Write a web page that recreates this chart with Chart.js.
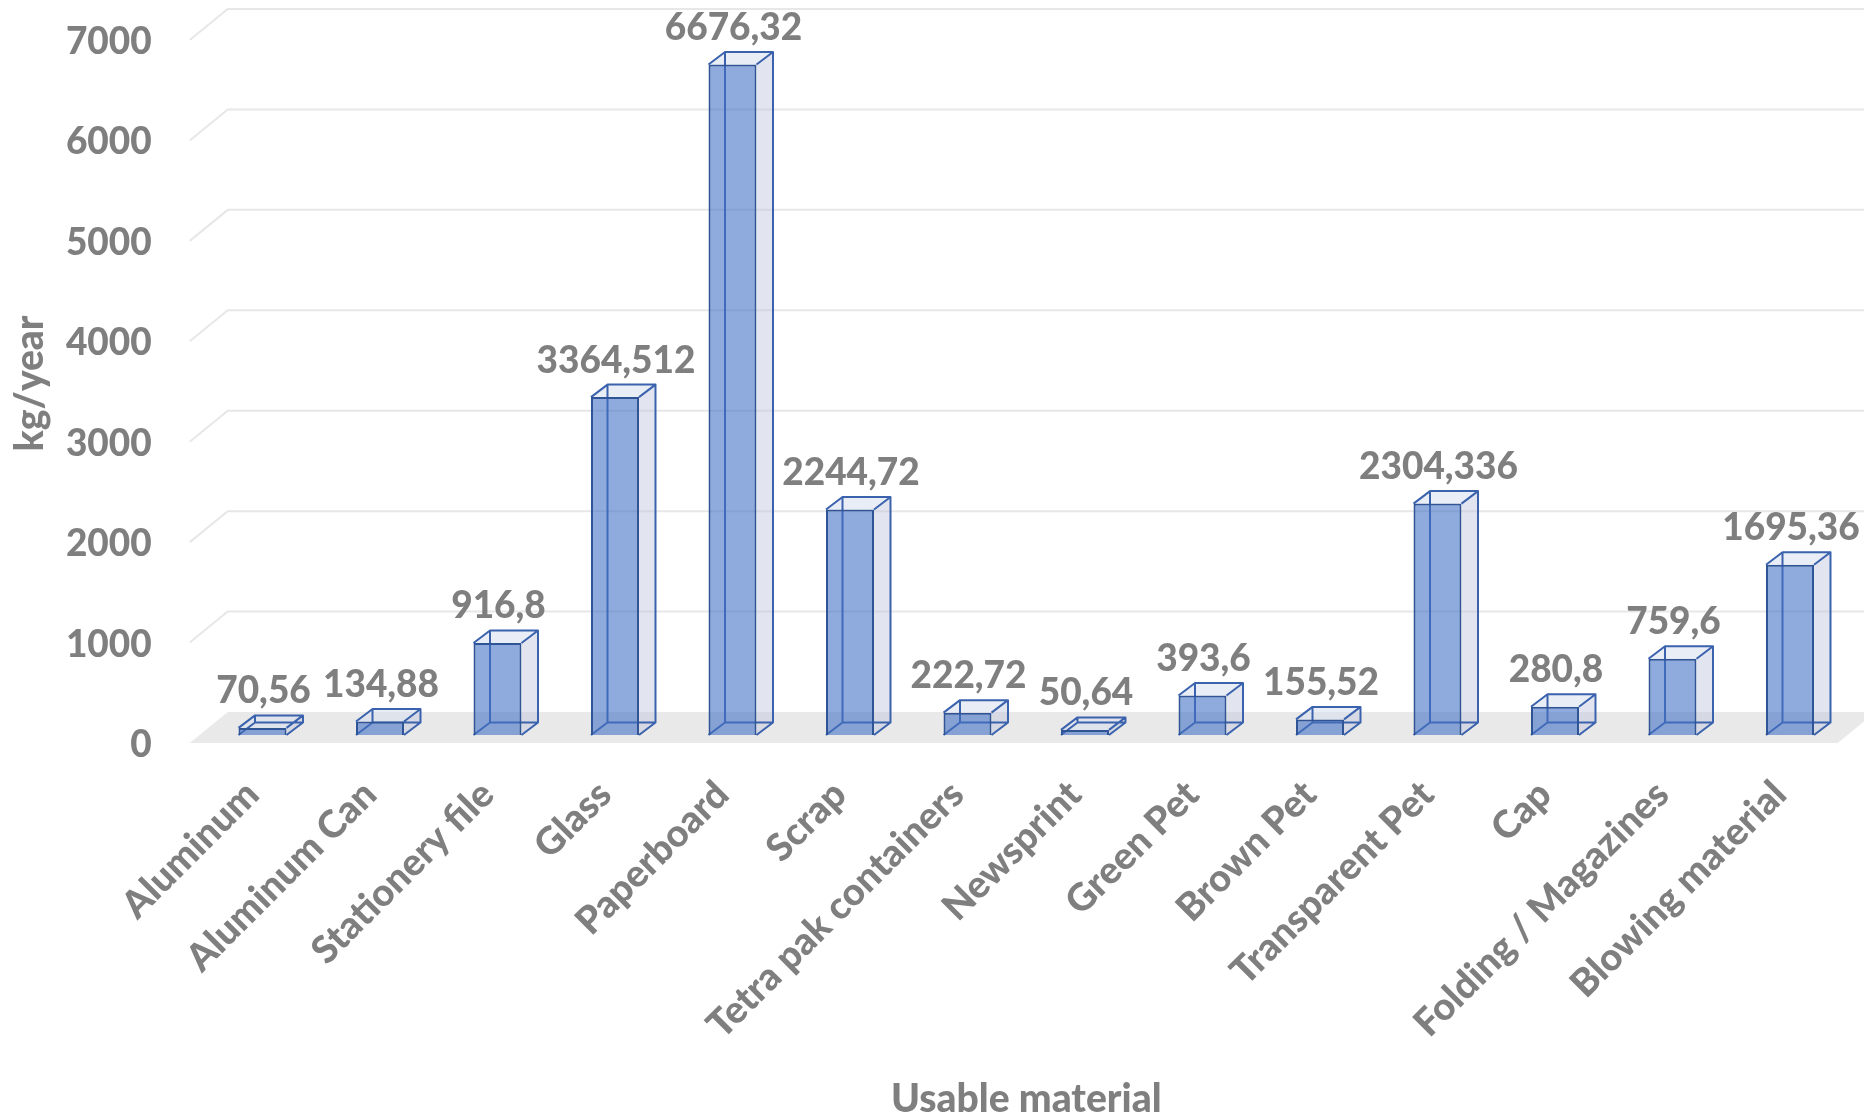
<!DOCTYPE html>
<html>
<head>
<meta charset="utf-8">
<script src="https://cdn.jsdelivr.net/npm/chart.js@4.4.1/dist/chart.umd.min.js"></script>
<style>
  html, body { margin: 0; padding: 0; background: #ffffff; }
  #wrap { width: 1864px; height: 1119px; }
</style>
</head>
<body>
<div id="wrap"><canvas id="c" width="1864" height="1119"></canvas></div>
<script>
// ---- data ----
const categories = [
  "Aluminum", "Aluminum Can", "Stationery file", "Glass", "Paperboard", "Scrap",
  "Tetra pak containers", "Newsprint", "Green Pet", "Brown Pet", "Transparent Pet",
  "Cap", "Folding / Magazines", "Blowing material"
];
const values = [70.56, 134.88, 916.8, 3364.512, 6676.32, 2244.72, 222.72, 50.64, 393.6, 155.52, 2304.336, 280.8, 759.6, 1695.36];
const yTicks = [0, 1000, 2000, 3000, 4000, 5000, 6000, 7000];
const yTitle = "kg/year";
const xTitle = "Usable material";

// ---- styles ----
const GRAY = '#7f7f7f';
const FONT = 'Lato';
const DEPTH = { dx: 16.5, dy: -12.5 };       // bar box depth
const WALL = { dx: 38, front: 8, back: -23 }; // floor / wall depth

const box3d = {
  id: 'box3d',
  beforeDatasetsDraw(chart) {
    const { ctx, chartArea, scales: { x, y } } = chart;
    const y0 = y.getPixelForValue(0);
    const fl = chartArea.left - 14, fr = chartArea.right - 11;
    ctx.save();
    // floor
    ctx.fillStyle = '#e9e9e9';
    ctx.beginPath();
    ctx.moveTo(fl, y0 + WALL.front);
    ctx.lineTo(fr, y0 + WALL.front);
    ctx.lineTo(fr + WALL.dx, y0 + WALL.back);
    ctx.lineTo(fl + WALL.dx, y0 + WALL.back);
    ctx.closePath();
    ctx.fill();
    // gridlines (left wall diagonal + back wall)
    ctx.strokeStyle = '#e7e7e7';
    ctx.lineWidth = 2;
    yTicks.forEach(v => {
      if (v === 0) return;
      const yy = y.getPixelForValue(v);
      ctx.beginPath();
      ctx.moveTo(fl, yy + WALL.front);
      ctx.lineTo(fl + WALL.dx, yy + WALL.back);
      ctx.lineTo(chart.width, yy + WALL.back);
      ctx.stroke();
    });
    // box back/side/top faces
    const meta = chart.getDatasetMeta(0);
    const { dx, dy } = DEPTH;
    meta.data.forEach(bar => {
      const p = bar.getProps(['x', 'y', 'base', 'width'], true);
      const x1 = p.x - p.width / 2, x2 = p.x + p.width / 2;
      const top = p.y, base = p.base;
      ctx.lineJoin = 'round';
      // side face
      ctx.fillStyle = 'rgba(190,198,220,0.45)';
      ctx.beginPath();
      ctx.moveTo(x2, top); ctx.lineTo(x2 + dx, top + dy);
      ctx.lineTo(x2 + dx, base + dy); ctx.lineTo(x2, base);
      ctx.closePath(); ctx.fill();
      // top face
      ctx.fillStyle = 'rgba(215,222,238,0.55)';
      ctx.beginPath();
      ctx.moveTo(x1, top); ctx.lineTo(x1 + dx, top + dy);
      ctx.lineTo(x2 + dx, top + dy); ctx.lineTo(x2, top);
      ctx.closePath(); ctx.fill();
      // edges
      ctx.strokeStyle = '#3a62ad';
      ctx.lineWidth = 2;
      ctx.beginPath();
      ctx.moveTo(x1 + dx, top + dy); ctx.lineTo(x1 + dx, base + dy); ctx.lineTo(x2 + dx, base + dy);
      ctx.moveTo(x1, base); ctx.lineTo(x1 + dx, base + dy);
      ctx.moveTo(x1, top); ctx.lineTo(x1 + dx, top + dy); ctx.lineTo(x2 + dx, top + dy);
      ctx.lineTo(x2, top);
      ctx.moveTo(x2 + dx, top + dy); ctx.lineTo(x2 + dx, base + dy); ctx.lineTo(x2, base);
      ctx.stroke();
    });
    ctx.restore();
  },
  afterDatasetsDraw(chart) {
    const { ctx } = chart;
    const meta = chart.getDatasetMeta(0);
    ctx.save();
    ctx.font = `900 37px ${FONT}`;
    ctx.fillStyle = GRAY;
    ctx.textAlign = 'center';
    ctx.textBaseline = 'middle';
    meta.data.forEach((bar, i) => {
      const p = bar.getProps(['x', 'y'], true);
      ctx.fillText(String(values[i]).replace('.', ','), p.x + 1, p.y - 36.5);
    });
    ctx.restore();
  }
};

new Chart(document.getElementById('c'), {
  type: 'bar',
  data: {
    labels: categories,
    datasets: [{
      data: values,
      backgroundColor: 'rgba(68,114,196,0.6)',
      borderColor: '#2f5597',
      borderWidth: 2,
      categoryPercentage: 1,
      barPercentage: 0.4085
    }]
  },
  options: {
    responsive: false,
    devicePixelRatio: 1,
    animation: false,
    layout: { padding: { left: 0, right: 15.25, top: 32, bottom: 0 } },
    plugins: { legend: { display: false }, tooltip: { enabled: false } },
    scales: {
      x: {
        grid: { display: false, drawTicks: false },
        border: { display: false },
        ticks: {
          color: GRAY,
          font: { family: FONT, size: 38, weight: '900' },
          minRotation: 45, maxRotation: 45,
          autoSkip: false,
          padding: 37,
          labelOffset: -10
        },
        title: {
          display: true, text: xTitle, color: GRAY,
          font: { family: FONT, size: 39, weight: '900', lineHeight: 1 },
          padding: { top: 0, bottom: 0 }
        },
        afterFit(scale) {
          scale.height = 384;
          scale.paddingLeft = 0; scale.paddingRight = 0;
          scale.paddingTop = 0; scale.paddingBottom = 0;
        }
      },
      y: {
        min: 0, max: 7000,
        grid: { display: false, drawTicks: false },
        border: { display: false },
        ticks: {
          stepSize: 1000,
          color: GRAY,
          font: { family: FONT, size: 37, weight: '900' },
          padding: 52,
          labelOffset: 10,
          callback: (v) => String(v)
        },
        title: {
          display: true, text: yTitle, color: GRAY,
          font: { family: FONT, size: 39, weight: '900', lineHeight: 1.2 },
          padding: { top: 7, bottom: 0 }
        },
        afterFit(scale) {
          scale.width = 203.75;
          scale.paddingTop = 0; scale.paddingBottom = 0;
          scale.paddingLeft = 0; scale.paddingRight = 0;
        }
      }
    }
  },
  plugins: [box3d]
});
</script>
</body>
</html>
